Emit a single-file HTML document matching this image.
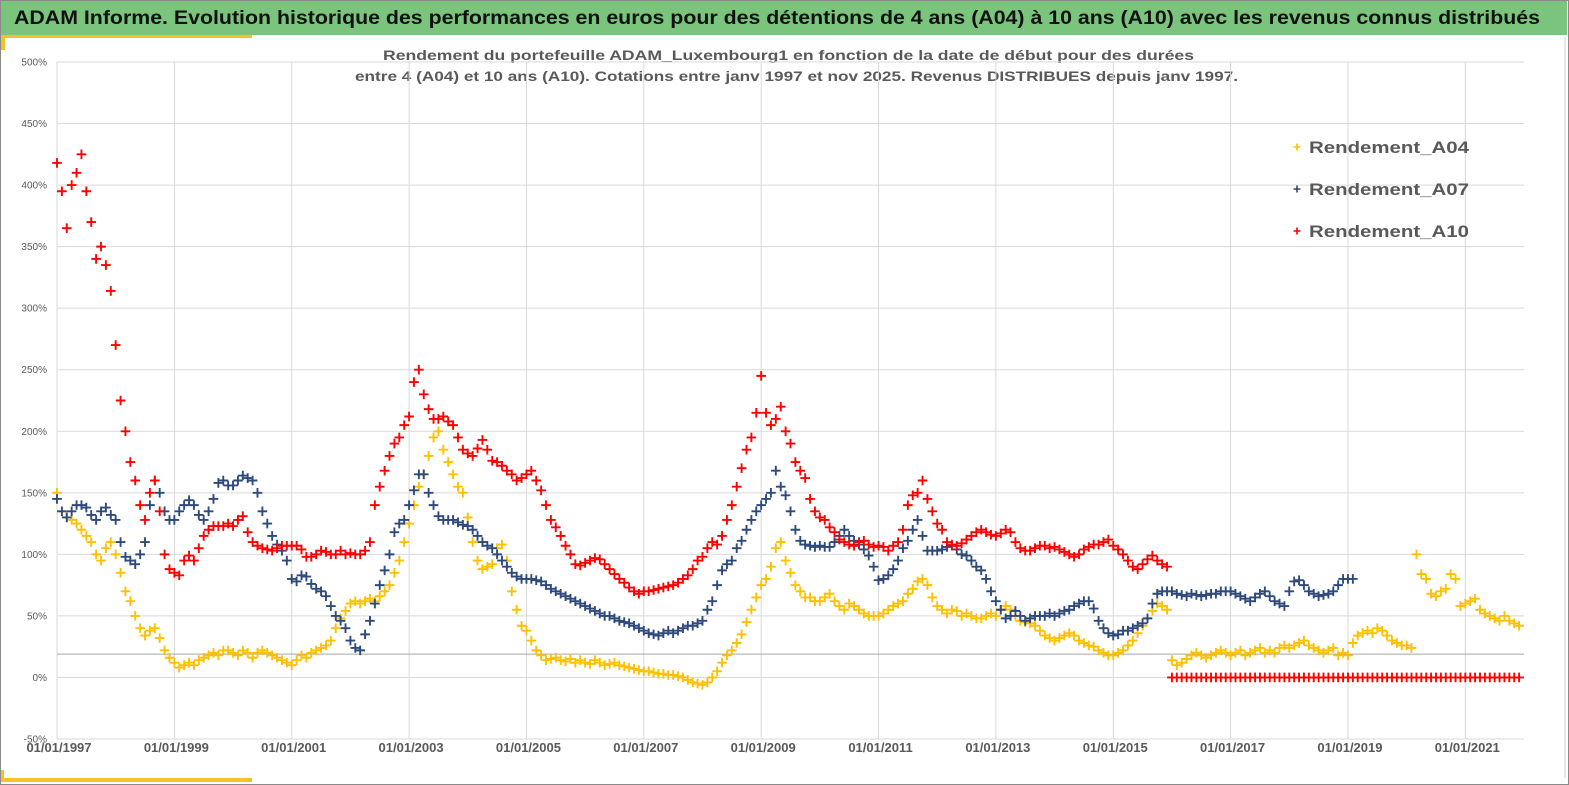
<!DOCTYPE html>
<html><head><meta charset="utf-8"><title>ADAM Informe</title>
<style>
html,body{margin:0;padding:0;background:#fff;}
svg{display:block;}
</style></head>
<body>
<svg id="chart" width="1569" height="785" viewBox="0 0 1569 785" xmlns="http://www.w3.org/2000/svg" font-family="'Liberation Sans', sans-serif">
  <rect x="0.5" y="0.5" width="1568" height="784" fill="#fff" stroke="#8a8a8a"/>
  <rect x="1" y="1" width="1566" height="34" fill="#7bc47d"/>
  <text x="14" y="24" font-size="19" font-weight="bold" fill="#111" textLength="1526" lengthAdjust="spacingAndGlyphs">ADAM Informe. Evolution historique des performances en euros pour des détentions de 4 ans (A04) à 10 ans (A10) avec les revenus connus distribués</text>
  <rect x="1" y="35" width="251" height="3" fill="#f5c02a"/>
  <rect x="1" y="35" width="4" height="15" fill="#f5c02a"/>
  <rect x="1" y="778" width="251" height="4" fill="#f5c02a"/>
  <rect x="1" y="770" width="3" height="12" fill="#f5c02a"/>
  <line x1="1565" y1="36" x2="1565" y2="778" stroke="#d0d0d0"/>
  <text x="383" y="60" font-size="14" font-weight="bold" fill="#595959" textLength="811" lengthAdjust="spacingAndGlyphs">Rendement du portefeuille ADAM_Luxembourg1  en fonction de la date de début pour des durées</text>
  <text x="355" y="81" font-size="14" font-weight="bold" fill="#595959" textLength="883" lengthAdjust="spacingAndGlyphs">entre 4 (A04) et 10 ans (A10). Cotations  entre janv 1997 et nov 2025. Revenus DISTRIBUES depuis janv 1997.</text>
  <g id="grid"></g>
  <g id="marks"></g>
  <g id="legend"></g>
</svg>
<script>
// ---- data ----
const yTicks = [500,450,400,350,300,250,200,150,100,50,0,-50];
const xTickYears = [1997,1999,2001,2003,2005,2007,2009,2011,2013,2015,2017,2019,2021];
const xTickLabels = ["01/01/1997","01/01/1999","01/01/2001","01/01/2003","01/01/2005","01/01/2007","01/01/2009","01/01/2011","01/01/2013","01/01/2015","01/01/2017","01/01/2019","01/01/2021"];
const seriesNames = ["Rendement_A04","Rendement_A07","Rendement_A10"];
const refLineValue = 19;
const startYear = 1997;
// monthly values (%) from Jan 1997
const a04 = [
150,135,130,128,125,120,115,110,100,95,105,110,
100,85,70,62,50,40,34,38,40,32,22,16,
12,8,10,12,10,14,16,18,20,18,22,22,
20,18,22,20,16,20,22,20,18,16,14,12,
10,14,18,16,20,22,24,26,30,40,48,54,
60,62,60,62,64,62,66,70,75,85,95,110,
125,140,155,165,180,195,200,185,175,165,155,150,
130,110,95,88,90,92,105,108,95,70,55,42,
38,30,22,18,14,15,16,14,13,15,12,14,
12,11,14,12,10,11,12,10,9,8,7,6,
5,5,4,3,3,2,2,1,0,-2,-4,-5,
-6,-4,0,5,12,18,22,28,35,45,55,65,
75,80,90,105,110,95,85,75,70,65,65,62,
62,65,68,62,58,55,60,58,55,52,50,50,
50,52,55,58,60,62,68,72,78,80,75,65,
58,55,52,55,54,50,52,50,48,48,50,52,
50,55,58,55,50,46,45,44,42,38,34,32,
30,32,34,36,34,30,28,26,25,22,20,18,
18,20,22,26,30,36,42,48,54,60,58,55,
14,10,12,15,18,20,18,16,18,20,22,20,
18,20,22,18,20,22,24,20,22,20,24,26,
24,26,28,30,26,24,22,20,22,24,18,20,
18,28,34,36,38,36,40,38,34,30,28,26,
26,24,100,84,80,68,66,70,72,84,80,58,
60,62,64,55,52,50,48,46,50,46,44,42
];
const a07 = [
145,135,130,135,140,140,138,132,128,135,138,132,
128,110,98,95,92,100,110,140,160,150,135,128,
128,135,140,144,140,132,128,135,145,158,160,156,
156,160,164,162,160,150,135,125,115,108,103,95,
80,78,83,82,76,72,70,66,58,50,46,40,
30,24,22,35,46,60,75,87,100,118,125,128,
140,152,165,165,150,140,131,128,128,128,126,124,
123,120,115,110,107,105,100,95,90,85,82,80,
80,80,79,78,75,72,70,68,66,64,62,60,
58,56,54,52,50,50,48,46,45,44,42,40,
38,36,35,34,36,38,36,38,40,42,42,44,
46,55,62,75,87,92,95,105,111,120,128,135,
140,145,150,168,155,148,135,120,111,108,107,106,
107,106,106,110,115,120,115,111,108,104,99,90,
79,80,83,88,95,105,111,120,128,115,103,103,
103,104,106,107,104,100,99,95,90,87,80,70,
62,55,48,50,54,50,46,48,50,50,50,52,
50,52,54,55,58,60,62,62,56,46,40,36,
34,35,38,38,40,42,44,48,60,68,70,70,
70,68,67,66,68,67,66,67,68,68,70,70,
70,68,66,64,62,65,68,70,66,62,60,58,
70,78,79,75,70,68,66,67,68,70,75,80,
80,80
];
const a10 = [
418,395,365,400,410,425,395,370,340,350,335,314,
270,225,200,175,160,140,128,150,160,135,100,88,
85,83,95,99,95,105,115,120,123,123,123,125,
123,128,131,118,110,107,105,104,103,105,107,107,
107,107,104,98,98,100,103,102,100,100,103,100,
101,100,100,103,110,140,155,168,180,190,195,205,
212,240,250,230,218,210,210,212,208,205,195,185,
182,180,186,193,185,176,175,172,168,165,160,162,
165,168,160,152,140,128,122,115,107,100,92,91,
93,95,97,96,92,88,84,80,77,73,70,68,
70,70,71,72,73,74,75,77,80,83,88,95,
98,105,110,108,115,128,140,155,170,185,195,215,
245,215,205,210,220,200,190,175,168,162,145,135,
130,128,122,118,112,110,108,107,110,111,108,106,
107,106,103,107,110,120,140,148,150,160,145,135,
125,120,110,108,107,109,112,115,118,120,118,116,
115,117,120,118,110,105,103,103,105,107,107,105,
106,104,102,100,98,100,104,106,108,108,110,112,
107,104,100,95,90,88,92,96,99,95,92,90,
0,0,0,0,0,0,0,0,0,0,0,0,
0,0,0,0,0,0,0,0,0,0,0,0,
0,0,0,0,0,0,0,0,0,0,0,0,
0,0,0,0,0,0,0,0,0,0,0,0,
0,0,0,0,0,0,0,0,0,0,0,0,
0,0,0,0,0,0,0,0,0,0,0,0
];

// ---- axes ----
const NS = "http://www.w3.org/2000/svg";
const PX0 = 57, PX1 = 1524, PY0 = 62, PY1 = 739;
const X_MIN = 1997, X_MAX = 2022, Y_MIN = -50, Y_MAX = 500;
function xScale(yr){ return PX0 + (yr - X_MIN) / (X_MAX - X_MIN) * (PX1 - PX0); }
function yScale(v){ return PY1 - (v - Y_MIN) / (Y_MAX - Y_MIN) * (PY1 - PY0); }
function mk(tag, attrs, parent){
  const e = document.createElementNS(NS, tag);
  for (const k in attrs) e.setAttribute(k, attrs[k]);
  parent.appendChild(e); return e;
}
const grid = document.getElementById('grid');
const marks = document.getElementById('marks');
const legend = document.getElementById('legend');

yTicks.forEach(v => {
  const y = yScale(v);
  const l = mk('line', {x1:PX0, x2:PX1, y1:y, y2:y, stroke:'#d9d9d9', 'stroke-width':1}, grid);
  
  
  const t = mk('text', {x:47, y:y+3.5, 'font-size':10, fill:'#595959', 'text-anchor':'end'}, grid);
  t.textContent = v + '%';
  
  
});
xTickYears.forEach((yr, i) => {
  const x = xScale(yr);
  const l = mk('line', {x1:x, x2:x, y1:PY0, y2:PY1, stroke:'#d9d9d9', 'stroke-width':1}, grid);
  
  
  const t = mk('text', {x:x+2, y:752, 'font-size':13, 'font-weight':'bold', fill:'#595959', 'text-anchor':'middle'}, grid);
  t.textContent = xTickLabels[i];
  
  
});
const ax = mk('line', {x1:PX0, x2:PX0, y1:PY0, y2:PY1, stroke:'#d9d9d9'}, grid);


const ref = mk('line', {x1:PX0, x2:PX1, y1:yScale(refLineValue), y2:yScale(refLineValue), stroke:'#a6a6a6', 'stroke-width':1}, grid);



const colors = ['#ffc000', '#2e4a7d', '#ff0000'];
const allSeries = [a04, a07, a10];
function plus(x, y, color, g, s, w){
  const p = mk('path', {d:`M${x-s} ${y}H${x+s}M${x} ${y-s}V${y+s}`, stroke:color, 'stroke-width':w, fill:'none'}, g);
  return p;
}
allSeries.forEach((data, si) => {
  const g = mk('g', {}, marks);
  
  
  data.forEach((v, i) => {
    const x = xScale(startYear + i / 12);
    const p = plus(x, yScale(v), colors[si], g, 4.8, 1.9);
    
    
  });
});

seriesNames.forEach((n, i) => {
  const y = 147 + i * 42;
  const p = plus(1297, y, colors[i], legend, 3.5, 1.6);
  
  
  const t = mk('text', {x:1309, y:y+6, 'font-size':17, 'font-weight':'bold', fill:'#595959', textLength:160, lengthAdjust:'spacingAndGlyphs'}, legend);
  t.textContent = n;
  
  
});
</script>
</body></html>
